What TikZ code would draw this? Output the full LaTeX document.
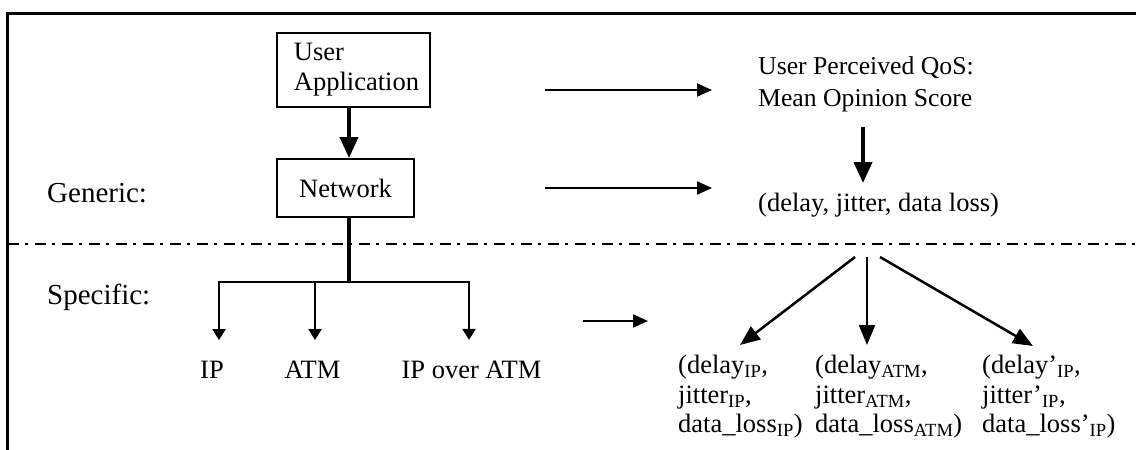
\documentclass[tikz,border=0pt]{standalone}
\usepackage{fontspec}
\setmainfont{Liberation Serif}
\usetikzlibrary{arrows.meta}
\begin{document}
\begin{tikzpicture}[x=1pt,y=-1pt,
  every node/.style={font=\fontsize{26.5}{30}\selectfont},
  txt/.style={inner sep=0pt},
  lbl/.style={inner sep=0pt, font=\fontsize{29}{33}\selectfont},
  box/.style={draw, line width=2pt, inner sep=0pt},
  frame/.style={line width=2.5pt, line join=miter},
  sep/.style={line width=1.5pt, dash pattern=on 11pt off 6pt on 3pt off 7pt},
  bus/.style={line width=2pt, line cap=rect},
  trunk/.style={line width=4.5pt},
  harr/.style={line width=2pt, -{Triangle[length=15pt,width=13pt]}},
  thickarr/.style={line width=4pt, -{Triangle[length=21pt,width=18pt]}},
  thinarr/.style={line width=2pt, -{Triangle[length=11pt,width=13pt]}},
  diagarr/.style={line width=2.5pt, -{Triangle[length=20pt,width=16pt]}}]
\useasboundingbox (0,0) rectangle (1136,450);

% frame (top and left edges)
\coordinate (frameTR) at (1136,13.5);
\coordinate (frameTL) at (7.5,13.5);
\coordinate (frameBL) at (7.5,450);
\draw[frame] (frameTR) -- (frameTL) -- (frameBL);

% separator
\coordinate (sepL) at (7.5,244);
\coordinate (sepR) at (1136,244);
\draw[sep] (sepL) -- (sepR);

% left column
\node[box, minimum width=153pt, minimum height=74pt, align=left] (ua) at (353.5,70) {\hspace*{6pt}User\\\hspace*{6pt}Application};
\node[box, minimum width=137pt, minimum height=58pt] (net) at (345.5,188) {Network};
\node[lbl, anchor=west] (gen) at (47,193) {Generic:};
\node[lbl, anchor=west] (spec) at (47,297) {Specific:};
\node[txt] (ip) at (212,370) {IP};
\node[txt] (atm) at (312.5,370) {ATM};
\node[txt] (ipatm) at (471.5,370) {IP over ATM};

% right column
\node[txt, anchor=west, align=left, font=\fontsize{25.7}{32}\selectfont] (qos) at (758,84) {User Perceived QoS:\\Mean Opinion Score};
\node[txt, anchor=west] (dl) at (758,205) {(delay, jitter, data loss)};
\node[txt, anchor=west, align=left, font=\fontsize{26.5}{29.5}\selectfont] (sip) at (678,397)
  {(delay\textsubscript{IP},\\jitter\textsubscript{IP},\\data\_loss\textsubscript{IP})};
\node[txt, anchor=west, align=left, font=\fontsize{26.5}{29.5}\selectfont] (satm) at (815,397)
  {(delay\textsubscript{ATM},\\jitter\textsubscript{ATM},\\data\_loss\textsubscript{ATM})};
\node[txt, anchor=west, align=left, font=\fontsize{26.5}{29.5}\selectfont] (sipatm) at (982,397)
  {(delay’\textsubscript{IP},\\jitter’\textsubscript{IP},\\data\_loss’\textsubscript{IP})};

% left connectors
\draw[thickarr] ([xshift=-4.5pt]ua.south) -- ([xshift=3.5pt]net.north);
\coordinate (junc) at (349,282);
\coordinate (busl) at (219,282);
\coordinate (busm) at (315,282);
\coordinate (busr) at (469,282);
\draw[trunk] ([xshift=3.5pt]net.south) -- (junc);
\draw[bus] (busl) -- (busr);
\draw[thinarr, shorten >=21pt] (busl) -- (busl |- ip.north);
\draw[thinarr, shorten >=21pt] (busm) -- (busm |- atm.north);
\draw[thinarr, shorten >=21pt] (busr) -- (busr |- ipatm.north);

% horizontal arrows
\coordinate (h1s) at (545,90);  \coordinate (h1e) at (712,90);
\coordinate (h2s) at (545,188); \coordinate (h2e) at (712,188);
\coordinate (h3s) at (583,321); \coordinate (h3e) at (648,321);
\draw[harr] (h1s) -- (h1e);
\draw[harr] (h2s) -- (h2e);
\draw[harr] (h3s) -- (h3e);

% right connectors
\coordinate (q1) at (863,127); \coordinate (q2) at (863,183);
\draw[thickarr] (q1) -- (q2);
\coordinate (d1s) at (855,257); \coordinate (d1e) at (740,345);
\coordinate (d2s) at (867,257); \coordinate (d2e) at (867,345);
\coordinate (d3s) at (880,257); \coordinate (d3e) at (1033,346);
\draw[diagarr] (d1s) -- (d1e);
\draw[diagarr] (d2s) -- (d2e);
\draw[diagarr] (d3s) -- (d3e);
\end{tikzpicture}
\end{document}
